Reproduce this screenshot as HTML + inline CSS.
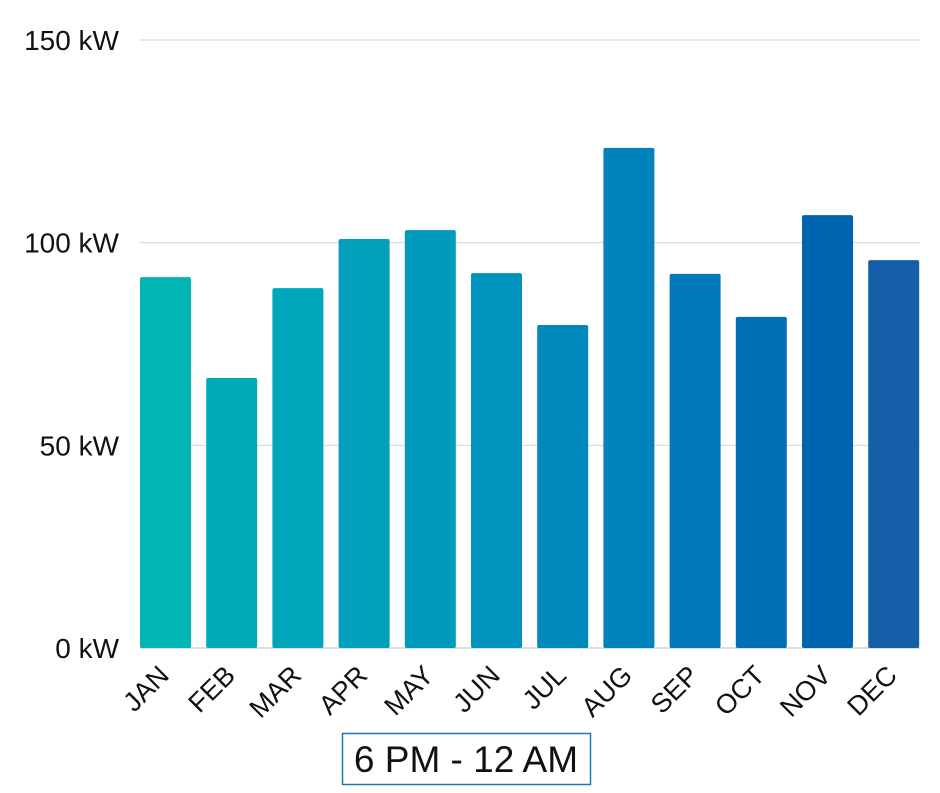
<!DOCTYPE html>
<html><head><meta charset="utf-8"><style>
body{margin:0;background:#fff;}
svg text{font-family:"Liberation Sans",sans-serif;fill:#111;}
</style></head><body>
<svg id="chart" width="940" height="788"></svg>
<script>
const months=["JAN","FEB","MAR","APR","MAY","JUN","JUL","AUG","SEP","OCT","NOV","DEC"];
const values=[91.5,66.6,88.8,100.9,103.1,92.5,79.7,123.4,92.3,81.7,106.8,95.7];
const colors=["#00b5b4","#00abb8","#00a6ba","#00a0bc","#009abd","#0093bd","#008abc","#0082bb","#007aba","#0070b5","#0065b0","#155ea8"];
const ticks=[0,50,100,150];
const tickLabels=["0 kW","50 kW","100 kW","150 kW"];
const NS="http://www.w3.org/2000/svg";
const svg=document.getElementById('chart');
const y0=648,yTop=40,vmax=150;
function y(v){return y0-(v/vmax)*(y0-yTop);}
function x(i){return 140+i*66.2;}
const bw=51;
function mk(t,a){const e=document.createElementNS(NS,t);for(const k in a)e.setAttribute(k,a[k]);svg.appendChild(e);return e;}
ticks.forEach((t,i)=>{
  const l=mk('line',{x1:140,x2:920,y1:y(t),y2:y(t),stroke:i==0?'#bbb':'#d6d6d6','stroke-width':1});
  
  
  const tx=mk('text',{x:119,y:y(t)+10,'text-anchor':'end','font-size':28});
  tx.textContent=tickLabels[i];
  
  
});
values.forEach((v,i)=>{
  const r=mk('rect',{x:x(i),y:y(v),width:bw,height:y0-y(v),fill:colors[i],rx:2});
  
  
  const cx=x(i)+bw/2+5,cy=677;
  const t=mk('text',{x:cx,y:cy,'text-anchor':'end','font-size':27,transform:`rotate(-45 ${cx} ${cy})`});
  t.textContent=months[i];
  
  
});
const box=mk('rect',{x:342.5,y:733.5,width:248,height:51,fill:'#fff',stroke:'#1a7ab8','stroke-width':1.5});


const lt=mk('text',{x:466,y:772,'text-anchor':'middle','font-size':37});
lt.textContent="6 PM - 12 AM";


</script>
</body></html>
